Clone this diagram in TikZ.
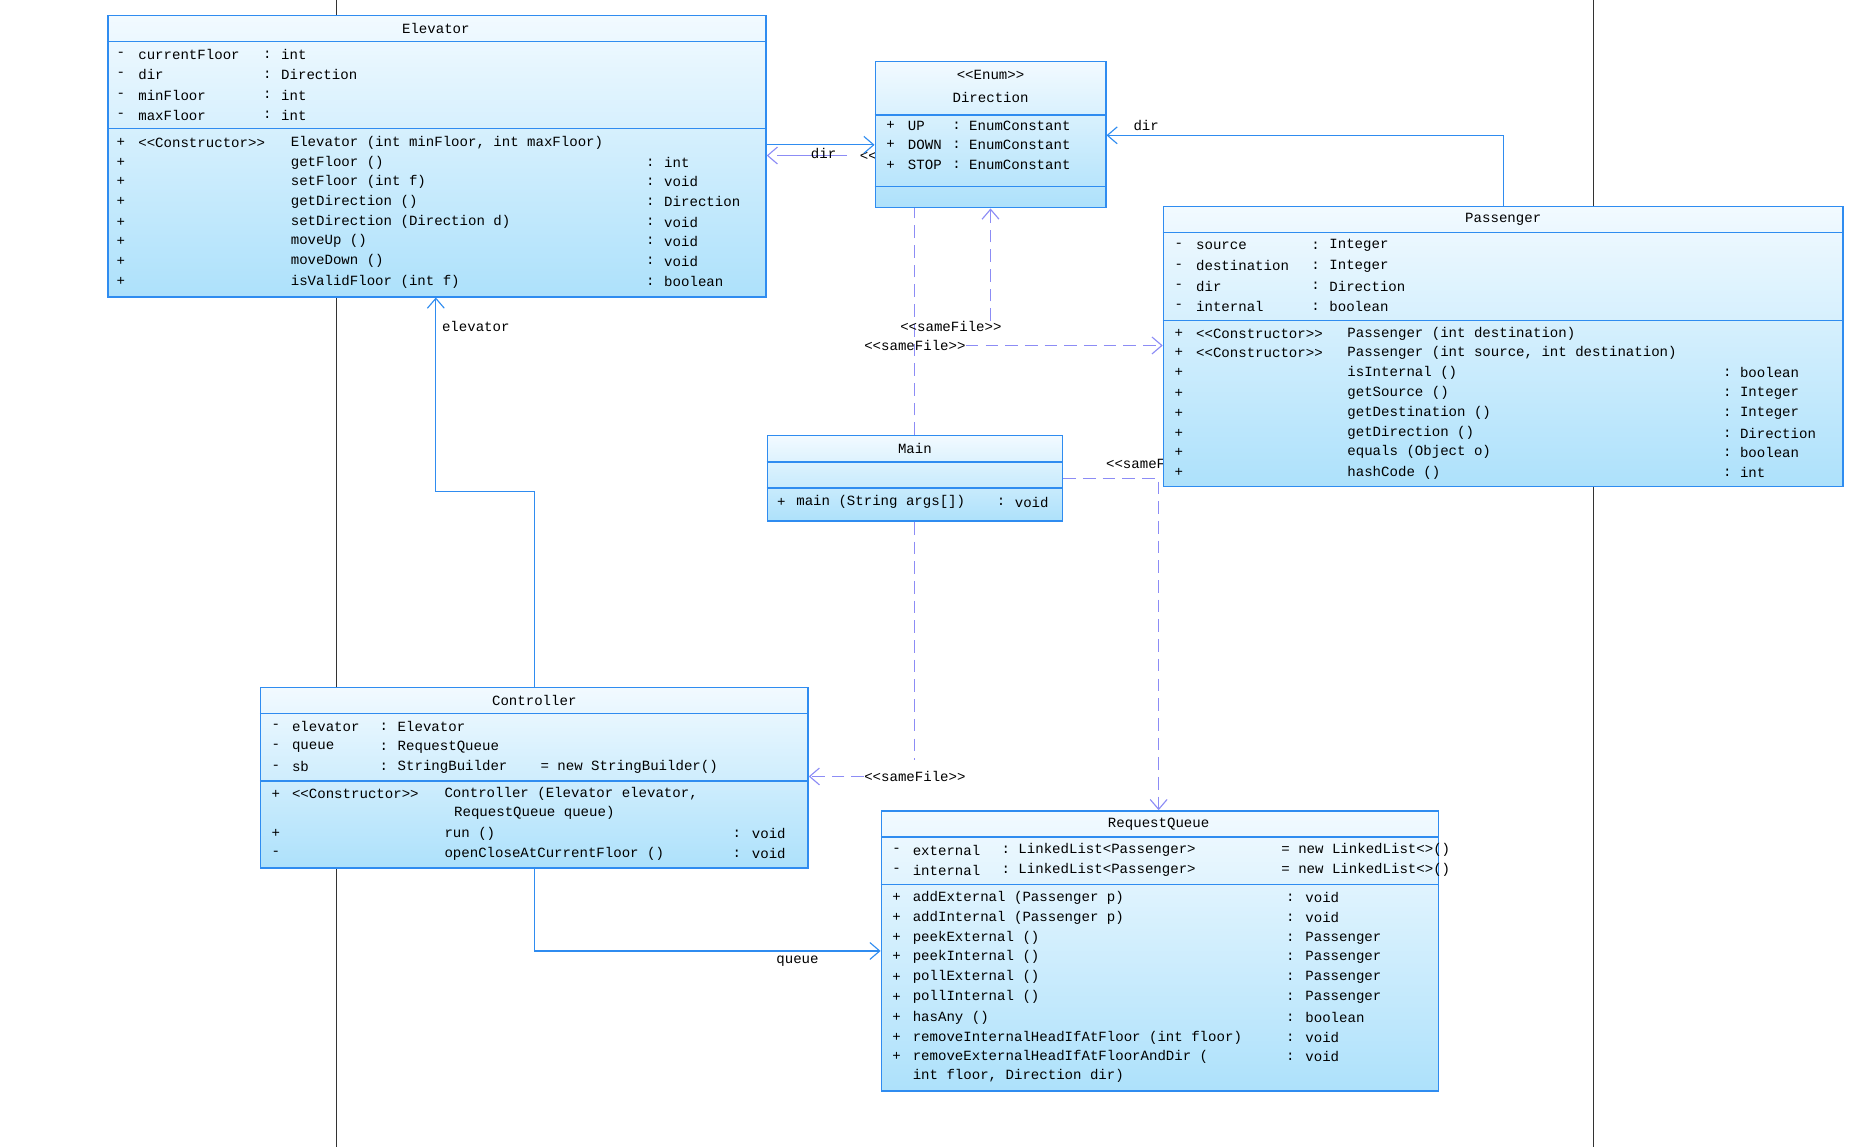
\documentclass[tikz,border=0pt]{standalone}
\usepackage{fontspec}
\setmonofont{Liberation Mono}
\usetikzlibrary{positioning, fit, arrows.meta}
\definecolor{clsblue}{HTML}{2F8CF0}
\definecolor{clstop}{HTML}{F2FAFF}
\definecolor{clsbot}{HTML}{ADE1FB}
\definecolor{deplav}{HTML}{8C8CF5}
\tikzset{
    cls/.style = {draw = clsblue, line width = 1pt, inner sep = 0pt,
        top color = clstop, bottom color = clsbot},
    sep/.style = {draw = clsblue, line width = 1pt},
    txt/.style = {anchor = west, inner sep = 0pt, font = \ttfamily\fontsize{10}{12}\selectfont},
    ttl/.style = {inner sep = 0pt, font = \ttfamily\fontsize{10}{12}\selectfont},
    assoc/.style = {draw = clsblue, line width = 0.8pt, -{Straight Barb[length=7pt, width=12pt]}},
    dep/.style = {draw = deplav, line width = 0.8pt, dash pattern = on 9pt off 5pt,
        -{Straight Barb[length=7pt, width=12pt]}},
    life/.style = {draw = black!80, line width = 0.8pt}
}
\begin{document}
\begin{tikzpicture}[x = 0.03cm, y = -0.02966cm]
\useasboundingbox (0,0) rectangle (1550,966);

% lifelines behind the classes
\draw[life] (280,0) -- (280,966);
\draw[life] (1327,0) -- (1327,966);

% class boxes (empty, text placed later)
\node[cls, fit = {(90,13) (638,250)}] (elevator) {};
\node[cls, fit = {(639,367) (885,439)}] (main) {};
\node[cls, fit = {(217,579) (673,731)}] (controller) {};
\node[cls, fit = {(734,683) (1198,919)}] (queue) {};

% connectors
\coordinate (eldir) at (638,122);
\draw[dep, dash pattern = on 0pt off 20pt on 30pt] (729,131) -- (elevator.east |- 0,131);
\begin{scope}
    \clip (700,115) rectangle (728,145);
    \node[txt] (hidden) at (716,131) {<<sameFile>>};
\end{scope}
\node[cls, fit = {(729,52) (921,175)}] (direction) {};
\draw[assoc] (eldir) -- (eldir -| direction.west) node[pos = 0.53, below, txt, anchor = north, yshift = -2pt] {dir};
\draw[assoc] (controller.north) |- (363,414) -- (elevator.south -| 363,0) node[pos = 0.85, right, txt, xshift = 4pt] {elevator};
\draw[assoc] (controller.south) |- (queue.west |- 0,801) node[pos = 0.88, below, txt, anchor = north, yshift = -3pt] {queue};
\draw[dep, -] (main.north) -- (main.north |- direction.south);
\node[ttl] (sf1) at (792,275) {<<sameFile>>};
\draw[dep] (sf1.north -| 825,0) -- (direction.south -| 825,0);
\node[ttl] (sf2) at (762,291) {<<sameFile>>};
\draw[dep, -] (main.south) -- (762,640);
\node[ttl] (sf3) at (762,654) {<<sameFile>>};
\draw[dep] (sf3.west) -- (controller.east |- sf3);
\draw[dep] (main.east |- 0,403) -| (queue.north -| 965,0);
\begin{scope}
    \clip (900,375) rectangle (968,400);
    \node[txt] at (921,390) {<<sameFile>>};
\end{scope}
\node[cls, fit = {(969,174) (1535,410)}] (passenger) {};
\draw[dep] (sf2.east) -- (passenger.west |- sf2);
\draw[assoc] (passenger.north -| 1252,0) |- (direction.east |- 0,114) node[pos = 0.95, above, txt, anchor = south, yshift = 3pt] {dir};

% compartments
\foreach \cl/\ya/\yb in {elevator/35/108, direction/97/157, main/389/411,
    passenger/196/270, controller/601/658, queue/705/745} {
    \draw[sep] (\cl.west |- 0,\ya) -- (\cl.east |- 0,\ya);
    \draw[sep] (\cl.west |- 0,\yb) -- (\cl.east |- 0,\yb);
}

% Elevator
\node[ttl] at (363,24) {Elevator};
\foreach \y/\n/\t in {46/currentFloor/int, 63/dir/Direction, 80/minFloor/int, 97/maxFloor/int} {
    \node[txt] at (97,\y) {-}; \node[txt] at (115,\y) {\n};
    \node[txt] at (219,\y) {:}; \node[txt] at (234,\y) {\t};
}
\node[txt] at (97,120) {+}; \node[txt] at (115,120) {<<Constructor>>};
\node[txt] at (242,120) {Elevator (int minFloor, int maxFloor)};
\foreach \y/\n/\t in {137/{getFloor ()}/int, 153/{setFloor (int f)}/void,
    170/{getDirection ()}/Direction, 187/{setDirection (Direction d)}/void,
    203/{moveUp ()}/void, 220/{moveDown ()}/void, 237/{isValidFloor (int f)}/boolean} {
    \node[txt] at (97,\y) {+}; \node[txt] at (242,\y) {\n};
    \node[txt] at (538,\y) {:}; \node[txt] at (553,\y) {\t};
}

% Direction
\node[ttl] at (825,63) {<<Enum>>};
\node[ttl] at (825,82) {Direction};
\foreach \y/\n in {106/UP, 122/DOWN, 139/STOP} {
    \node[txt] at (738,\y) {+}; \node[txt] at (756,\y) {\n};
    \node[txt] at (793,\y) {:}; \node[txt] at (807,\y) {EnumConstant};
}

% Passenger
\node[ttl] at (1252,185) {Passenger};
\foreach \y/\n/\t in {207/source/Integer, 224/destination/Integer, 241/dir/Direction, 258/internal/boolean} {
    \node[txt] at (978,\y) {-}; \node[txt] at (996,\y) {\n};
    \node[txt] at (1092,\y) {:}; \node[txt] at (1107,\y) {\t};
}
\node[txt] at (978,281) {+}; \node[txt] at (996,281) {<<Constructor>>};
\node[txt] at (1122,281) {Passenger (int destination)};
\node[txt] at (978,297) {+}; \node[txt] at (996,297) {<<Constructor>>};
\node[txt] at (1122,297) {Passenger (int source, int destination)};
\foreach \y/\n/\t in {314/{isInternal ()}/boolean, 331/{getSource ()}/Integer,
    348/{getDestination ()}/Integer, 365/{getDirection ()}/Direction,
    381/{equals (Object o)}/boolean, 398/{hashCode ()}/int} {
    \node[txt] at (978,\y) {+}; \node[txt] at (1122,\y) {\n};
    \node[txt] at (1435,\y) {:}; \node[txt] at (1449,\y) {\t};
}

% Main
\node[ttl] at (762,378) {Main};
\node[txt] at (647,423) {+}; \node[txt] at (663,423) {main (String args[])};
\node[txt] at (830,423) {:}; \node[txt] at (845,423) {void};

% Controller
\node[ttl] at (445,590) {Controller};
\foreach \y/\n/\t in {612/elevator/Elevator, 629/queue/RequestQueue, 646/sb/StringBuilder} {
    \node[txt] at (226,\y) {-}; \node[txt] at (243,\y) {\n};
    \node[txt] at (316,\y) {:}; \node[txt] at (331,\y) {\t};
}
\node[txt] at (450,646) {= new StringBuilder()};
\node[txt] at (226,669) {+}; \node[txt] at (243,669) {<<Constructor>>};
\node[txt] at (370,669) {Controller (Elevator elevator,};
\node[txt] at (378,685) {RequestQueue queue)};
\node[txt] at (226,702) {+}; \node[txt] at (370,702) {run ()};
\node[txt] at (226,719) {-}; \node[txt] at (370,719) {openCloseAtCurrentFloor ()};
\foreach \y in {702, 719} {
    \node[txt] at (610,\y) {:}; \node[txt] at (626,\y) {void};
}

% RequestQueue
\node[ttl] at (965,694) {RequestQueue};
\foreach \y/\n in {716/external, 733/internal} {
    \node[txt] at (743,\y) {-}; \node[txt] at (760,\y) {\n};
    \node[txt] at (834,\y) {:}; \node[txt] at (848,\y) {LinkedList<Passenger>};
    \node[txt] at (1067,\y) {= new LinkedList<>()};
}
\foreach \y/\n/\t in {756/{addExternal (Passenger p)}/void, 773/{addInternal (Passenger p)}/void,
    790/{peekExternal ()}/Passenger, 806/{peekInternal ()}/Passenger,
    823/{pollExternal ()}/Passenger, 840/{pollInternal ()}/Passenger,
    857/{hasAny ()}/boolean, 874/{removeInternalHeadIfAtFloor (int floor)}/void,
    890/{removeExternalHeadIfAtFloorAndDir (}/void} {
    \node[txt] at (743,\y) {+}; \node[txt] at (760,\y) {\n};
    \node[txt] at (1071,\y) {:}; \node[txt] at (1087,\y) {\t};
}
\node[txt] at (760,906) {int floor, Direction dir)};
\end{tikzpicture}
\end{document}
